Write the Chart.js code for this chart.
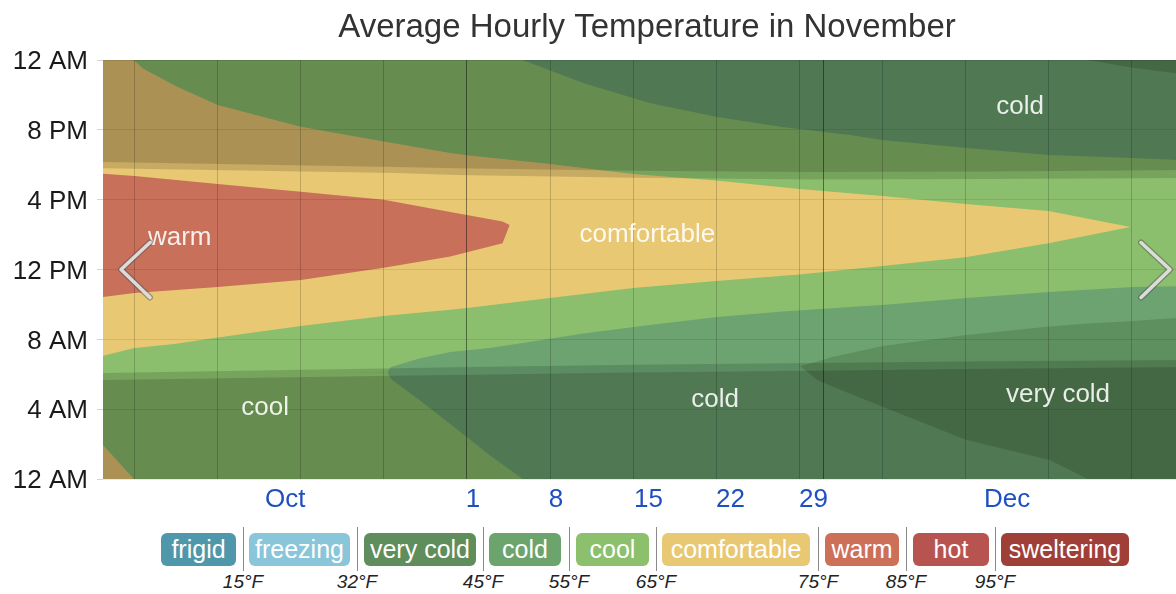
<!DOCTYPE html>
<html>
<head>
<meta charset="utf-8">
<script src="https://cdn.jsdelivr.net/npm/chart.js@4.4.1/dist/chart.umd.min.js"></script>
<style>
  body { margin: 0; width: 1176px; height: 594px; overflow: hidden; position: relative; background: #fff;
         font-family: "Liberation Sans", Arial, Helvetica, sans-serif; }
  #wrap { position: absolute; left: 0; top: 0; width: 1191px; height: 520px; }
  .box { position: absolute; top: 533px; height: 33px; line-height: 33px; border-radius: 6px;
         color: #fff; font-size: 25px; text-align: center; white-space: nowrap; }
  .sep { position: absolute; top: 527px; height: 44px; width: 1px; background: #8a8a8a; }
  .thr { position: absolute; top: 571px; width: 60px; margin-left: -30px; text-align: center;
         font-style: italic; font-size: 19px; color: #222; }
</style>
</head>
<body>
<div id="wrap"><canvas id="chart" width="1191" height="520"></canvas></div>
<div id="legend"></div>
<script>
// x = days since Oct 1 (Nov 1 = 31, Dec 1 = 61), y = hour of day (0..24)
// each band: hour the temperature rises above the threshold, and hour it falls back
// (values above 24 wrap round into the early hours of the chart)

// above 75F (warm)
const warmDays  = [0, 3, 10, 17, 24, 29.6, 34.0, 34.6];
const warmStart = [10.4, 10.65, 11.0, 11.4, 12.1, 12.75, 13.5, 14.55];
const warmEnd   = [17.5, 17.35, 16.9, 16.45, 16.0, 15.3, 14.75, 14.55];

// above 65F (comfortable)
const comfDays  = [0, 3, 3.7, 6.5, 10, 17, 24, 29.6, 31, 38, 45, 52, 59, 66, 73, 80, 86.9];
const comfStart = [7.0, 7.5, 7.55, 7.75, 8.1, 8.76, 9.33, 9.7, 9.8, 10.37, 10.94, 11.34, 11.72, 12.2, 12.7, 13.5, 14.43];
const comfEnd   = [26.2, 23.95, 23.52, 22.5, 21.42, 20.18, 19.33, 18.67, 18.55, 18.05, 17.47, 17.1, 16.61, 16.21, 15.75, 15.35, 14.43];

// above 55F (cool)
const coolDays  = [0, 24.3, 24.6, 27, 29.6, 32.9, 35.7, 40.8, 46.4, 52.1, 57.6, 63.3, 66, 73.1, 80.1, 87.1, 92];
const coolStart = [6.0, 6.1, 6.41, 6.9, 7.27, 7.5, 7.79, 8.33, 8.82, 9.28, 9.6, 9.85, 9.97, 10.37, 10.71, 11.0, 11.05];
const coolEnd   = [30.2, 30.1, 29.73, 28.52, 27.15, 25.37, 24.0, 22.68, 21.53, 20.73, 20.16, 19.7, 19.42, 18.96, 18.56, 18.38, 18.24];

// above 45F (cold)
const coldDays  = [0, 59.1, 60.5, 61.8, 66.05, 73.1, 80.1, 83.3, 87.1, 92];
const coldStart = [6.4, 6.47, 6.73, 6.99, 7.62, 8.25, 8.73, 8.9, 9.05, 9.28];
const coldEnd   = [30.6, 30.47, 29.67, 29.3, 28.12, 26.23, 25.09, 24.0, 23.56, 23.12];

// twilight and night shading
const sunDays    = [0, 25, 30, 45, 60, 75, 92];
const duskStart  = [17.81, 17.53, 17.42, 17.25, 17.15, 17.18, 17.24];
const dawnEnd    = [6.07, 6.35, 6.4, 6.55, 6.65, 6.75, 6.82];
const nightStart = [18.16, 17.87, 17.8, 17.66, 17.58, 17.62, 17.7];
const nightEnd   = [5.67, 5.92, 5.95, 6.1, 6.2, 6.32, 6.41];

const xTickDays   = [15.7, 31.5, 38.5, 46.3, 53.2, 60.2, 76.5];
const xTickLabels = ['Oct', '1', '8', '15', '22', '29', 'Dec'];
const gridDays    = [3, 10, 17, 24, 31, 38, 45, 52, 59, 61, 66, 73, 80, 87];
const monthDays   = [31, 61];
const yTickLabels = ['12 AM', '4 AM', '8 AM', '12 PM', '4 PM', '8 PM', '12 AM'];

const regionNames = ['warm', 'comfortable', 'cold', 'cool', 'cold', 'very cold'];
const regionDays  = [6.8, 46.2, 77.6, 14.0, 51.9, 80.8];
const regionHours = [13.8, 13.97, 21.3, 4.07, 4.52, 4.81];

const legendNames  = ['frigid', 'freezing', 'very cold', 'cold', 'cool', 'comfortable', 'warm', 'hot', 'sweltering'];
const legendColors = ['#4f97aa', '#89c6da', '#5f8d5b', '#6ca46e', '#8cc06c', '#e8c872', '#cc7058', '#b85450', '#a03f38'];
const legendTemps  = ['15°F', '32°F', '45°F', '55°F', '65°F', '75°F', '85°F', '95°F'];

const FONT = '"Liberation Sans", Arial, Helvetica, sans-serif';
const veryColdColor = '#5e8f5e';
const shade = 'rgba(0,0,0,0.14)';

const datasets = [];
function addBand(days, lo, hi, color, order) {
  // drawn twice: once in place, once shifted a day down so the part past midnight shows at the bottom
  [0, -24].forEach(shift => {
    datasets.push({ data: days.map((d, i) => ({ x: d, y: lo[i] + shift })),
      borderWidth: 0, pointRadius: 0, fill: false, order: order });
    datasets.push({ data: days.map((d, i) => ({ x: d, y: hi[i] + shift })),
      borderWidth: 0, pointRadius: 0, fill: '-1', backgroundColor: color, order: order });
  });
}
addBand(coldDays, coldStart, coldEnd, '#6ca371', 10);
addBand(coolDays, coolStart, coolEnd, '#8bbf6d', 9);
addBand(comfDays, comfStart, comfEnd, '#e8c873', 8);
addBand(warmDays, warmStart, warmEnd, '#c8705a', 7);
addBand(sunDays, duskStart, dawnEnd.map(h => h + 24), shade, 6);
addBand(sunDays, nightStart, nightEnd.map(h => h + 24), shade, 5);

const extras = {
  id: 'extras',
  beforeDatasetsDraw(chart) {
    const a = chart.chartArea, ctx = chart.ctx;
    ctx.save();
    ctx.fillStyle = veryColdColor;
    ctx.fillRect(a.left, a.top, a.right - a.left, a.bottom - a.top);
    ctx.restore();
  },
  afterDraw(chart) {
    const ctx = chart.ctx, xs = chart.scales.x, ys = chart.scales.y, a = chart.chartArea;
    ctx.save();
    ctx.font = '26px ' + FONT;
    ctx.textAlign = 'center';
    ctx.textBaseline = 'middle';
    ctx.fillStyle = 'rgba(255,255,255,0.88)';
    regionNames.forEach((t, i) => {
      ctx.fillText(t, xs.getPixelForValue(regionDays[i]), ys.getPixelForValue(regionHours[i]));
    });
    // carousel arrows
    const midY = ys.getPixelForValue(12);
    const chevrons = [[a.left + 47, a.left + 18], [1141, 1170]];
    chevrons.forEach(([x0, x1]) => {
      ctx.lineCap = 'round'; ctx.lineJoin = 'round';
      [['rgba(80,80,80,0.45)', 6], ['rgba(226,226,226,0.95)', 3.5]].forEach(([c, w]) => {
        ctx.strokeStyle = c; ctx.lineWidth = w;
        ctx.beginPath();
        ctx.moveTo(x0, midY - 27); ctx.lineTo(x1, midY); ctx.lineTo(x0, midY + 28);
        ctx.stroke();
      });
    });
    ctx.restore();
  }
};

new Chart(document.getElementById('chart'), {
  type: 'line',
  data: { datasets: datasets },
  options: {
    responsive: false,
    devicePixelRatio: 1,
    animation: false,
    events: [],
    elements: { line: { tension: 0 } },
    layout: { padding: 0 },
    plugins: {
      legend: { display: false },
      tooltip: { enabled: false },
      title: { display: true, fullSize: false, text: 'Average Hourly Temperature in November',
               color: '#333', font: { family: FONT, size: 33, weight: 'normal' },
               padding: { top: 8, bottom: 12.4 } }
    },
    scales: {
      x: { type: 'linear', min: 0.34, max: 92,
           afterBuildTicks: s => { s.ticks = gridDays.map(v => ({ value: v })); },
           ticks: { display: false },
           grid: { z: 1, drawTicks: false,
                   color: c => monthDays.includes(c.tick.value) ? 'rgba(0,0,0,0.45)' : 'rgba(0,0,0,0.18)' },
           border: { display: false },
           afterFit: s => { s.height = 0; } },
      x2: { type: 'linear', position: 'bottom', min: 0.34, max: 92,
            afterBuildTicks: s => { s.ticks = xTickDays.map(v => ({ value: v })); },
            ticks: { callback: (v, i) => xTickLabels[i], color: '#1f4fc1', padding: 5,
                     autoSkip: false, maxRotation: 0, font: { family: FONT, size: 26 } },
            grid: { display: false, drawTicks: false },
            border: { display: false },
            afterFit: s => { s.height = 41; } },
      y: { min: 0, max: 24,
           afterBuildTicks: s => { s.ticks = yTickLabels.map((t, i) => ({ value: i * 4 })); },
           ticks: { callback: (v, i) => yTickLabels[i], color: '#1a1a1a', padding: 9, labelOffset: 2,
                    font: { family: FONT, size: 26 } },
           grid: { z: 1, color: 'rgba(0,0,0,0.09)', tickLength: 6, tickColor: '#d4d4d4' },
           border: { display: false },
           afterFit: s => { s.width = 103; } }
    }
  },
  plugins: [extras]
});

// legend strip
const boxEdges = [[161, 236], [249, 350], [364, 476], [489, 561], [576, 649], [662, 810], [825, 899], [913, 989], [1001, 1129]];
const sepX = [243, 357, 483, 569, 656, 818, 906, 995];
const legend = document.getElementById('legend');
legendNames.forEach((n, i) => {
  const b = document.createElement('div');
  b.className = 'box';
  b.textContent = n;
  b.style.left = boxEdges[i][0] + 'px';
  b.style.width = (boxEdges[i][1] - boxEdges[i][0]) + 'px';
  b.style.background = legendColors[i];
  legend.appendChild(b);
});
legendTemps.forEach((t, i) => {
  const s = document.createElement('div');
  s.className = 'sep';
  s.style.left = sepX[i] + 'px';
  legend.appendChild(s);
  const l = document.createElement('div');
  l.className = 'thr';
  l.textContent = t;
  l.style.left = sepX[i] + 'px';
  legend.appendChild(l);
});
</script>
</body>
</html>
